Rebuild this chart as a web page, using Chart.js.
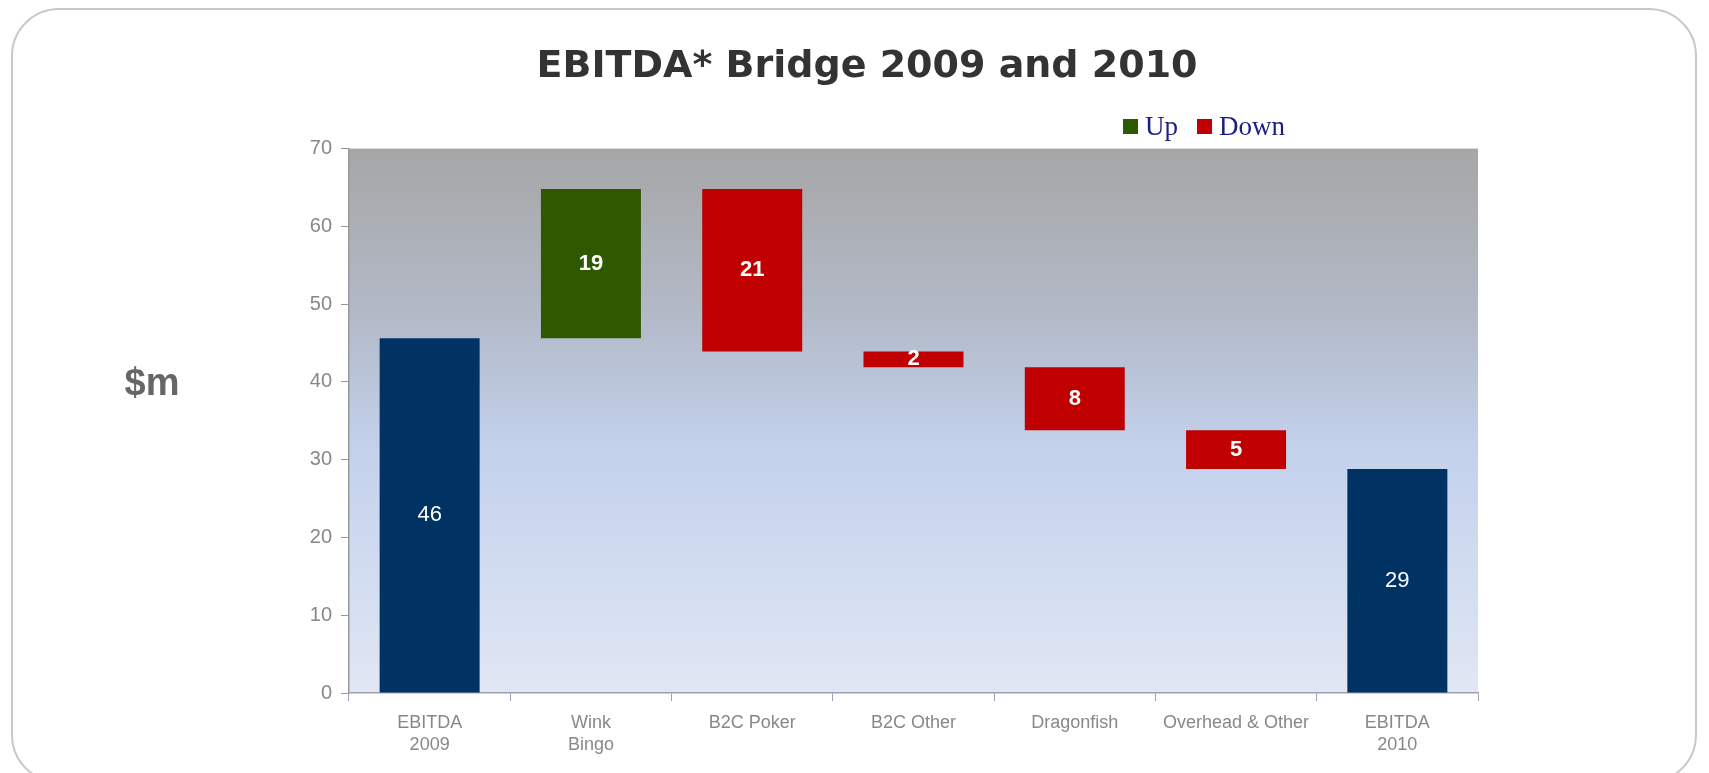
<!DOCTYPE html>
<html>
<head>
<meta charset="utf-8">
<script src="https://cdn.jsdelivr.net/npm/chart.js@4.4.1/dist/chart.umd.min.js"></script>
<style>
  html, body { margin: 0; padding: 0; background: #fff; }
  #wrap { position: relative; width: 1709px; height: 773px; overflow: hidden; }
  #card { position: absolute; left: 11px; top: 8px; width: 1686px; height: 775px;
          border: 2px solid #c8c8c8; border-radius: 48px; box-sizing: border-box; }
  #chart-output { position: absolute; left: 0; top: 0; }
</style>
</head>
<body>
<div id="wrap">
  <div id="card"></div>
  <canvas id="chart-output" width="1709" height="773"></canvas>
</div>
<script>
// categories and values
var categories = [["EBITDA", "2009"], ["Wink", "Bingo"], "B2C Poker", "B2C Other", "Dragonfish", "Overhead & Other", ["EBITDA", "2010"]];
var barLow  = [0,    45.6, 43.9, 41.9, 33.8, 28.8, 0];
var barHigh = [45.6, 64.8, 64.8, 43.9, 41.9, 33.8, 28.8];
var barLabels = ["46", "19", "21", "2", "8", "5", "29"];
var barKind = ["total", "up", "down", "down", "down", "down", "total"];
var yTicks = [0, 10, 20, 30, 40, 50, 60, 70];
var legendItems = ["Up", "Down"];

var kindColor = { total: "#003263", up: "#2f5900", down: "#c00000" };

var barData = barLow.map(function (lo, i) { return [lo, barHigh[i]]; });

// plot background gradient
var bgPlugin = {
  id: "plotBg",
  beforeDraw: function (chart) {
    var a = chart.chartArea, ctx = chart.ctx;
    var g = ctx.createLinearGradient(0, a.top, 0, a.bottom);
    g.addColorStop(0, "#a6a6a6");
    g.addColorStop(0.3, "#b2b9c7");
    g.addColorStop(0.55, "#c3d1ec");
    g.addColorStop(1, "#e0e7f4");
    ctx.save();
    ctx.fillStyle = g;
    ctx.fillRect(a.left, a.top, a.right - a.left, a.bottom - a.top);
    ctx.restore();
  }
};

// labels inside the bars, "$m" and the small legend
var extrasPlugin = {
  id: "extras",
  afterDatasetsDraw: function (chart) {
    var ctx = chart.ctx, a = chart.chartArea;
    var meta = chart.getDatasetMeta(0);
    ctx.save();
    ctx.fillStyle = "#ffffff";
    ctx.textAlign = "center";
    ctx.textBaseline = "middle";
    meta.data.forEach(function (bar, i) {
      var total = barKind[i] == "total";
      ctx.font = (total ? "" : "bold ") + "22px 'Liberation Sans', Arial, sans-serif";
      ctx.fillText(barLabels[i], bar.x, (bar.y + bar.base) / 2);
    });

    // $m
    ctx.fillStyle = "#666666";
    ctx.font = "bold 38px 'Liberation Sans', Arial, sans-serif";
    ctx.fillText("$m", 152, 385);

    // legend
    var colors = [kindColor.up, kindColor.down];
    var x = a.left + 774;
    ctx.textAlign = "left";
    ctx.textBaseline = "alphabetic";
    ctx.font = "27px 'Liberation Serif', 'Times New Roman', serif";
    legendItems.forEach(function (txt, i) {
      ctx.fillStyle = colors[i];
      ctx.fillRect(x, 119, 15, 15);
      ctx.fillStyle = "#1c1c82";
      ctx.fillText(txt, x + 22, 135);
      x += 22 + ctx.measureText(txt).width + 19;
    });
    ctx.restore();
  }
};

var ctx = document.getElementById("chart-output");
var myChart = new Chart(ctx, {
  type: "bar",
  data: {
    labels: categories,
    datasets: [{
      data: barData,
      backgroundColor: barKind.map(function (k) { return kindColor[k]; }),
      borderWidth: 0,
      barPercentage: 0.62,
      categoryPercentage: 1
    }]
  },
  options: {
    responsive: false,
    animation: false,
    layout: { padding: { left: 256, right: 231, top: 0, bottom: 10 } },
    plugins: {
      legend: { display: false },
      tooltip: { enabled: false },
      title: {
        display: true,
        text: "EBITDA* Bridge 2009 and 2010",
        color: "#333333",
        font: { family: "'DejaVu Sans', Verdana, sans-serif", size: 38, weight: "bold", lineHeight: 1.2 },
        padding: { top: 44, bottom: 59 }
      }
    },
    scales: {
      x: {
        grid: { drawOnChartArea: false, color: "#a0a0b4", tickLength: 8, offset: true },
        border: { color: "#a0a0b4", width: 1.5 },
        ticks: {
          color: "#888888",
          padding: 11,
          maxRotation: 0,
          font: { family: "'Liberation Sans', Arial, sans-serif", size: 18, lineHeight: 1.22 }
        },
        afterFit: function (s) { s.height = 70; }
      },
      y: {
        min: 0,
        max: 70,
        afterBuildTicks: function (s) { s.ticks = yTicks.map(function (v) { return { value: v }; }); },
        grid: { drawOnChartArea: false, color: "#999999", tickLength: 8 },
        border: { color: "#999999", width: 1.5 },
        ticks: {
          color: "#888888",
          padding: 9,
          font: { family: "'Liberation Sans', Arial, sans-serif", size: 20 }
        },
        afterFit: function (s) { s.width = 93; }
      }
    }
  },
  plugins: [bgPlugin, extrasPlugin]
});
</script>
</body>
</html>
